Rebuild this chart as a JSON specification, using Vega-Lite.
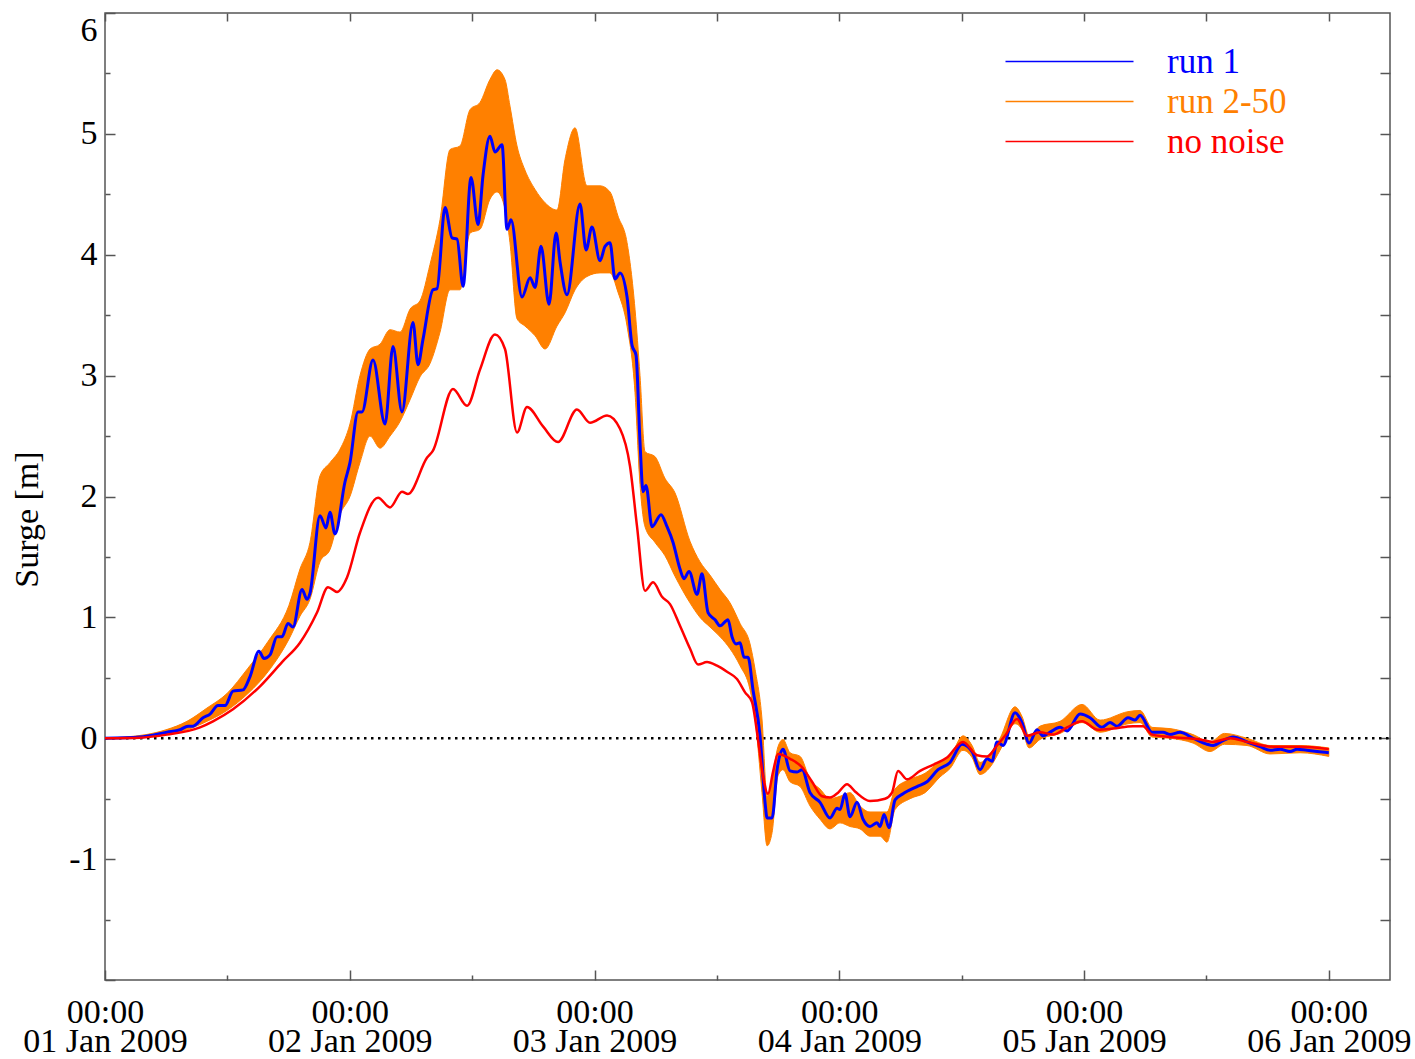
{
"$schema": "https://vega.github.io/schema/vega-lite/v6.json",
"width": 1285, "height": 967,
"autosize": {"type": "none"},
"padding": {"left": 105, "top": 13, "right": 25, "bottom": 79},
"background": "white",
"config": {
  "view": {"stroke": "#555555", "strokeWidth": 1.5},
  "font": "Liberation Serif",
  "axis": {"grid": false, "domain": false, "labelFont": "Liberation Serif", "labelFontSize": 34, "labelColor": "black", "tickColor": "#555555", "tickWidth": 1.5, "labelOverlap": false, "labelBound": false},
  "legend": {"orient": "none", "legendX": 947, "legendY": 31, "title": null,
        "symbolType": "M-6.4,0H6.4", "symbolSize": 400, "symbolStrokeWidth": 1.5, "labelFont": "Liberation Serif", "labelFontSize": 35, "labelOffset": 80, "rowPadding": 4, "padding": 0}
},
"resolve": {"axis": {"x": "independent", "y": "independent"}},
"datasets": {
"blue": [
{"h":0,"v":0},{"h":3.43,"v":0.01},{"h":6.08,"v":0.05},{"h":7.35,"v":0.07},{"h":8.14,"v":0.10},{"h":8.63,"v":0.10},{"h":9.61,"v":0.17},{"h":10.30,"v":0.20},{"h":11.08,"v":0.27},{"h":11.77,"v":0.27},{"h":12.55,"v":0.39},{"h":13.53,"v":0.40},{"h":14.22,"v":0.51},{"h":15.10,"v":0.72},{"h":15.59,"v":0.66},{"h":16.18,"v":0.69},{"h":16.87,"v":0.84},{"h":17.36,"v":0.84},{"h":17.94,"v":0.95},{"h":18.43,"v":0.92},{"h":19.32,"v":1.23},{"h":19.81,"v":1.15},{"h":20.10,"v":1.20},{"h":21.08,"v":1.84},{"h":21.67,"v":1.74},{"h":22.06,"v":1.87},{"h":22.55,"v":1.69},{"h":23.53,"v":2.12},{"h":24.02,"v":2.28},{"h":24.81,"v":2.70},{"h":25.20,"v":2.70},{"h":26.28,"v":3.13},{"h":27.46,"v":2.60},{"h":28.24,"v":3.24},{"h":29.12,"v":2.70},{"h":30.20,"v":3.44},{"h":30.69,"v":3.09},{"h":31.18,"v":3.30},{"h":32.16,"v":3.71},{"h":32.56,"v":3.72},{"h":33.34,"v":4.39},{"h":34.03,"v":4.14},{"h":34.52,"v":4.13},{"h":35.11,"v":3.74},{"h":35.89,"v":4.64},{"h":36.58,"v":4.25},{"h":37.07,"v":4.66},{"h":37.75,"v":4.98},{"h":38.24,"v":4.85},{"h":38.93,"v":4.91},{"h":39.42,"v":4.21},{"h":39.81,"v":4.29},{"h":40.89,"v":3.65},{"h":41.68,"v":3.81},{"h":42.17,"v":3.73},{"h":42.75,"v":4.07},{"h":43.54,"v":3.59},{"h":44.23,"v":4.18},{"h":44.62,"v":3.94},{"h":45.30,"v":3.67},{"h":46.58,"v":4.42},{"h":47.17,"v":4.04},{"h":47.75,"v":4.23},{"h":48.54,"v":3.95},{"h":49.03,"v":4.07},{"h":49.52,"v":4.10},{"h":50.01,"v":3.80},{"h":50.50,"v":3.85},{"h":51.19,"v":3.65},{"h":51.68,"v":3.25},{"h":52.07,"v":3.17},{"h":52.46,"v":2.45},{"h":52.76,"v":2.04},{"h":53.05,"v":2.09},{"h":53.64,"v":1.75},{"h":54.52,"v":1.85},{"h":55.11,"v":1.75},{"h":55.70,"v":1.62},{"h":56.38,"v":1.40},{"h":56.77,"v":1.32},{"h":57.27,"v":1.38},{"h":58.05,"v":1.19},{"h":58.54,"v":1.36},{"h":59.13,"v":1.04},{"h":59.82,"v":0.98},{"h":60.31,"v":0.93},{"h":61.09,"v":0.98},{"h":61.48,"v":0.84},{"h":61.88,"v":0.78},{"h":62.27,"v":0.79},{"h":62.66,"v":0.67},{"h":63.05,"v":0.67},{"h":63.54,"v":0.40},{"h":64.23,"v":0.02},{"h":64.72,"v":-0.53},{"h":64.92,"v":-0.66},{"h":65.41,"v":-0.66},{"h":65.90,"v":-0.26},{"h":66.48,"v":-0.09},{"h":67.17,"v":-0.27},{"h":67.86,"v":-0.28},{"h":68.35,"v":-0.26},{"h":69.13,"v":-0.45},{"h":70.11,"v":-0.53},{"h":71.09,"v":-0.66},{"h":71.78,"v":-0.58},{"h":72.07,"v":-0.59},{"h":72.56,"v":-0.46},{"h":73.05,"v":-0.65},{"h":73.74,"v":-0.53},{"h":74.33,"v":-0.67},{"h":75.01,"v":-0.73},{"h":75.70,"v":-0.70},{"h":76.00,"v":-0.73},{"h":76.39,"v":-0.63},{"h":76.88,"v":-0.74},{"h":77.47,"v":-0.51},{"h":78.25,"v":-0.46},{"h":79.62,"v":-0.40},{"h":80.60,"v":-0.36},{"h":81.68,"v":-0.26},{"h":82.86,"v":-0.20},{"h":84.04,"v":-0.05},{"h":85.02,"v":-0.11},{"h":85.80,"v":-0.26},{"h":86.49,"v":-0.17},{"h":86.98,"v":-0.19},{"h":87.47,"v":-0.03},{"h":88.06,"v":-0.06},{"h":89.23,"v":0.21},{"h":89.92,"v":0.13},{"h":90.61,"v":-0.04},{"h":91.39,"v":0.07},{"h":91.98,"v":0.02},{"h":92.67,"v":0.05},{"h":93.65,"v":0.09},{"h":94.33,"v":0.06},{"h":95.61,"v":0.20},{"h":96.59,"v":0.17},{"h":97.76,"v":0.09},{"h":98.55,"v":0.13},{"h":99.24,"v":0.10},{"h":100.31,"v":0.17},{"h":101.00,"v":0.15},{"h":101.49,"v":0.19},{"h":102.67,"v":0.05},{"h":103.75,"v":0.05},{"h":104.43,"v":0.03},{"h":105.41,"v":0.05},{"h":106.69,"v":0.00},{"h":108.06,"v":-0.05},{"h":108.65,"v":-0.06},{"h":109.63,"v":-0.02},{"h":110.61,"v":0.01},{"h":111.98,"v":-0.03},{"h":113.26,"v":-0.07},{"h":114.24,"v":-0.10},{"h":115.22,"v":-0.09},{"h":116.20,"v":-0.11},{"h":116.89,"v":-0.09},{"h":117.87,"v":-0.10},{"h":118.85,"v":-0.11},{"h":120,"v":-0.12}
],
"red": [
{"h":0,"v":0},{"h":3.43,"v":0.005},{"h":6.08,"v":0.03},{"h":9.32,"v":0.09},{"h":10.59,"v":0.14},{"h":12.55,"v":0.24},{"h":15.20,"v":0.43},{"h":17.36,"v":0.63},{"h":19.12,"v":0.79},{"h":20.79,"v":1.04},{"h":21.87,"v":1.25},{"h":22.75,"v":1.21},{"h":23.73,"v":1.33},{"h":25.00,"v":1.70},{"h":26.77,"v":1.99},{"h":27.95,"v":1.91},{"h":29.12,"v":2.04},{"h":29.71,"v":2.02},{"h":31.57,"v":2.32},{"h":32.16,"v":2.38},{"h":34.12,"v":2.89},{"h":35.50,"v":2.75},{"h":36.77,"v":3.05},{"h":38.24,"v":3.34},{"h":39.22,"v":3.22},{"h":40.40,"v":2.53},{"h":41.38,"v":2.74},{"h":42.95,"v":2.58},{"h":44.42,"v":2.45},{"h":46.28,"v":2.72},{"h":47.56,"v":2.61},{"h":49.23,"v":2.67},{"h":50.50,"v":2.56},{"h":51.48,"v":2.25},{"h":52.17,"v":1.75},{"h":52.95,"v":1.22},{"h":53.74,"v":1.29},{"h":54.62,"v":1.17},{"h":55.40,"v":1.11},{"h":56.38,"v":0.93},{"h":57.37,"v":0.74},{"h":58.15,"v":0.61},{"h":59.03,"v":0.63},{"h":60.01,"v":0.60},{"h":60.99,"v":0.55},{"h":61.97,"v":0.49},{"h":62.76,"v":0.38},{"h":63.44,"v":0.30},{"h":64.03,"v":-0.01},{"h":64.52,"v":-0.31},{"h":65.01,"v":-0.46},{"h":65.50,"v":-0.28},{"h":65.99,"v":-0.13},{"h":67.17,"v":-0.17},{"h":68.35,"v":-0.24},{"h":69.33,"v":-0.36},{"h":70.31,"v":-0.48},{"h":71.09,"v":-0.49},{"h":71.88,"v":-0.45},{"h":72.76,"v":-0.38},{"h":73.54,"v":-0.44},{"h":75.01,"v":-0.52},{"h":76.49,"v":-0.50},{"h":77.17,"v":-0.45},{"h":77.76,"v":-0.27},{"h":78.64,"v":-0.34},{"h":79.92,"v":-0.27},{"h":81.19,"v":-0.22},{"h":82.57,"v":-0.16},{"h":84.13,"v":-0.03},{"h":85.51,"v":-0.14},{"h":86.49,"v":-0.15},{"h":87.47,"v":-0.06},{"h":88.25,"v":0.02},{"h":89.43,"v":0.16},{"h":90.41,"v":0.02},{"h":91.68,"v":0.05},{"h":92.96,"v":0.03},{"h":94.33,"v":0.09},{"h":95.80,"v":0.14},{"h":97.37,"v":0.07},{"h":98.84,"v":0.08},{"h":100.80,"v":0.10},{"h":101.78,"v":0.10},{"h":102.67,"v":0.03},{"h":104.43,"v":0.01},{"h":107.37,"v":-0.01},{"h":108.65,"v":-0.03},{"h":110.32,"v":0.00},{"h":111.98,"v":-0.03},{"h":114.53,"v":-0.07},{"h":117.18,"v":-0.07},{"h":120,"v":-0.09}
],
"env": [
{"h":0,"lo":0,"hi":0},{"h":1.96,"lo":0,"hi":0.01},{"h":4.02,"lo":0.01,"hi":0.03},{"h":5.98,"lo":0.03,"hi":0.07},{"h":8.04,"lo":0.07,"hi":0.14},{"h":10.00,"lo":0.14,"hi":0.25},{"h":11.96,"lo":0.23,"hi":0.37},{"h":14.02,"lo":0.37,"hi":0.58},{"h":15.98,"lo":0.55,"hi":0.80},{"h":18.04,"lo":0.82,"hi":1.10},{"h":19.12,"lo":1.01,"hi":1.40},{"h":20.10,"lo":1.15,"hi":1.62},{"h":21.08,"lo":1.46,"hi":2.17},{"h":22.06,"lo":1.56,"hi":2.28},{"h":23.04,"lo":1.85,"hi":2.39},{"h":24.02,"lo":2.00,"hi":2.60},{"h":25.00,"lo":2.28,"hi":3.00},{"h":25.99,"lo":2.50,"hi":3.22},{"h":26.97,"lo":2.40,"hi":3.26},{"h":27.95,"lo":2.50,"hi":3.38},{"h":28.93,"lo":2.62,"hi":3.36},{"h":29.91,"lo":2.80,"hi":3.55},{"h":30.89,"lo":2.99,"hi":3.62},{"h":31.87,"lo":3.10,"hi":3.92},{"h":32.85,"lo":3.36,"hi":4.29},{"h":33.83,"lo":3.71,"hi":4.87},{"h":34.81,"lo":3.71,"hi":4.90},{"h":35.79,"lo":4.18,"hi":5.20},{"h":36.77,"lo":4.21,"hi":5.26},{"h":37.75,"lo":4.46,"hi":5.45},{"h":38.44,"lo":4.52,"hi":5.53},{"h":39.22,"lo":4.38,"hi":5.45},{"h":39.71,"lo":4.10,"hi":5.23},{"h":40.40,"lo":3.47,"hi":4.90},{"h":41.18,"lo":3.41,"hi":4.70},{"h":42.17,"lo":3.33,"hi":4.54},{"h":43.15,"lo":3.22,"hi":4.43},{"h":44.32,"lo":3.41,"hi":4.37},{"h":45.11,"lo":3.52,"hi":4.79},{"h":46.09,"lo":3.71,"hi":5.05},{"h":47.26,"lo":3.82,"hi":4.57},{"h":48.54,"lo":3.85,"hi":4.57},{"h":49.52,"lo":3.85,"hi":4.52},{"h":50.30,"lo":3.69,"hi":4.32},{"h":51.19,"lo":3.41,"hi":4.10},{"h":51.97,"lo":2.86,"hi":3.55},{"h":52.46,"lo":2.10,"hi":3.00},{"h":52.95,"lo":1.75,"hi":2.37},{"h":53.93,"lo":1.62,"hi":2.33},{"h":54.91,"lo":1.51,"hi":2.15},{"h":55.89,"lo":1.34,"hi":2.03},{"h":57.36,"lo":1.12,"hi":1.63},{"h":58.34,"lo":1.00,"hi":1.46},{"h":59.32,"lo":0.92,"hi":1.35},{"h":60.31,"lo":0.84,"hi":1.23},{"h":61.29,"lo":0.74,"hi":1.12},{"h":62.27,"lo":0.60,"hi":0.95},{"h":63.25,"lo":0.40,"hi":0.78},{"h":63.74,"lo":0.16,"hi":0.57},{"h":64.42,"lo":-0.45,"hi":0.16},{"h":64.92,"lo":-0.89,"hi":-0.48},{"h":65.41,"lo":-0.78,"hi":-0.34},{"h":65.99,"lo":-0.31,"hi":-0.07},{"h":66.48,"lo":-0.26,"hi":-0.01},{"h":67.17,"lo":-0.36,"hi":-0.12},{"h":68.16,"lo":-0.40,"hi":-0.15},{"h":69.13,"lo":-0.56,"hi":-0.34},{"h":70.11,"lo":-0.67,"hi":-0.42},{"h":71.09,"lo":-0.75,"hi":-0.50},{"h":72.07,"lo":-0.70,"hi":-0.48},{"h":73.05,"lo":-0.73,"hi":-0.45},{"h":74.03,"lo":-0.75,"hi":-0.56},{"h":75.01,"lo":-0.81,"hi":-0.61},{"h":76.00,"lo":-0.81,"hi":-0.61},{"h":76.68,"lo":-0.86,"hi":-0.61},{"h":77.47,"lo":-0.59,"hi":-0.42},{"h":78.94,"lo":-0.50,"hi":-0.34},{"h":80.41,"lo":-0.45,"hi":-0.29},{"h":81.88,"lo":-0.32,"hi":-0.19},{"h":82.86,"lo":-0.25,"hi":-0.15},{"h":84.13,"lo":-0.10,"hi":0.02},{"h":85.02,"lo":-0.16,"hi":-0.06},{"h":85.80,"lo":-0.30,"hi":-0.20},{"h":86.78,"lo":-0.24,"hi":-0.13},{"h":87.76,"lo":-0.10,"hi":0.00},{"h":89.23,"lo":0.12,"hi":0.26},{"h":89.92,"lo":0.07,"hi":0.18},{"h":90.61,"lo":-0.08,"hi":0.02},{"h":91.68,"lo":-0.01,"hi":0.10},{"h":93.65,"lo":0.04,"hi":0.14},{"h":95.80,"lo":0.13,"hi":0.28},{"h":97.57,"lo":0.05,"hi":0.15},{"h":100.31,"lo":0.12,"hi":0.22},{"h":101.49,"lo":0.13,"hi":0.23},{"h":102.67,"lo":0.01,"hi":0.09},{"h":104.43,"lo":0.00,"hi":0.08},{"h":106.69,"lo":-0.04,"hi":0.03},{"h":108.35,"lo":-0.11,"hi":-0.03},{"h":109.77,"lo":-0.05,"hi":0.04},{"h":111.98,"lo":-0.06,"hi":0.00},{"h":114.24,"lo":-0.13,"hi":-0.06},{"h":117.18,"lo":-0.12,"hi":-0.06},{"h":120,"lo":-0.15,"hi":-0.08}
]
},
"layer": [
{
  "data": {"values": [{"zero": 0, "start": 0, "end": 126}]},
  "mark": {"type": "rule", "color": "black", "strokeWidth": 2.5, "strokeDash": [2.5, 4.5], "strokeCap": "butt"},
  "encoding": {
    "x": {"field": "start", "type": "quantitative", "scale": {"domain": [0, 126], "nice": false, "zero": false}, "axis": {"orient": "top", "values": [0,12,24,36,48,60,72,84,96,108,120], "labels": false, "tickSize": -8, "title": null}},
    "x2": {"field": "end"},
    "y": {"field": "zero", "type": "quantitative", "scale": {"domain": [-2, 6], "nice": false, "zero": false}, "axis": {"orient": "right", "values": [-1.5,-1,-0.5,0,0.5,1,1.5,2,2.5,3,3.5,4,4.5,5,5.5], "labels": false, "tickSize": -10, "title": null}}
  }
},
{
  "data": {"name": "env"},
  "mark": {"type": "area", "opacity": 1, "stroke": "#ff8000", "strokeWidth": 1, "interpolate": "monotone", "clip": true},
  "encoding": {
    "x": {"field": "h", "type": "quantitative", "scale": {"domain": [0, 126], "nice": false, "zero": false},
      "axis": {"orient": "bottom", "values": [0,24,48,72,96,120], "ticks": false, "labelPadding": 15, "labelLineHeight": 29, "labelAlign": "center",
        "labelExpr": "['00:00', ['01','02','03','04','05','06'][round(datum.value/24)] + ' Jan 2009']", "title": null}},
    "y": {"field": "lo", "type": "quantitative", "scale": {"domain": [-2, 6], "nice": false, "zero": false},
      "axis": {"orient": "left", "values": [-1,0,1,2,3,4,5,6], "ticks": false, "labelPadding": 8, "labelFlush": true,
        "labelExpr": "datum.value < 0 ? '-' + abs(datum.value) : '' + datum.value",
        "title": "Surge [m]", "titleFont": "Liberation Serif", "titleFontSize": 34, "titleFontWeight": "normal", "titleColor": "black", "titlePadding": 24, "titleY": 506}},
    "y2": {"field": "hi"},
    "color": {"datum": "run 2-50", "scale": {"domain": ["run 1", "run 2-50", "no noise"], "range": ["#0000ff", "#ff8000", "#ff0000"]},
      "legend": {"encode": {"labels": {"update": {"fill": {"signal": "scale('color', datum.value)"}}},
                   "symbols": {"update": {"stroke": {"signal": "scale('color', datum.value)"}, "fill": {"value": "transparent"}, "opacity": {"value": 1}}}}}}
  }
},
{
  "data": {"name": "blue"},
  "mark": {"type": "line", "strokeWidth": 3, "interpolate": "monotone", "clip": true},
  "encoding": {
    "x": {"field": "h", "type": "quantitative", "scale": {"domain": [0, 126], "nice": false, "zero": false}, "axis": {"orient": "bottom", "values": [0,24,48,72,96,120], "labels": false, "tickSize": -10, "title": null}},
    "y": {"field": "v", "type": "quantitative", "scale": {"domain": [-2, 6], "nice": false, "zero": false}, "axis": {"orient": "left", "values": [-2,-1,0,1,2,3,4,5,6], "labels": false, "tickSize": -10, "title": null}},
    "color": {"datum": "run 1", "scale": {"domain": ["run 1", "run 2-50", "no noise"], "range": ["#0000ff", "#ff8000", "#ff0000"]},
      "legend": {"encode": {"labels": {"update": {"fill": {"signal": "scale('color', datum.value)"}}},
                   "symbols": {"update": {"stroke": {"signal": "scale('color', datum.value)"}, "fill": {"value": "transparent"}, "opacity": {"value": 1}}}}}}
  }
},
{
  "data": {"name": "red"},
  "mark": {"type": "line", "strokeWidth": 2.5, "interpolate": "monotone", "clip": true},
  "encoding": {
    "x": {"field": "h", "type": "quantitative", "scale": {"domain": [0, 126], "nice": false, "zero": false}, "axis": {"orient": "bottom", "values": [12,36,60,84,108], "labels": false, "tickSize": -5, "title": null}},
    "y": {"field": "v", "type": "quantitative", "scale": {"domain": [-2, 6], "nice": false, "zero": false}, "axis": {"orient": "left", "values": [-1.5,-0.5,0.5,1.5,2.5,3.5,4.5,5.5], "labels": false, "tickSize": -5, "title": null}},
    "color": {"datum": "no noise", "scale": {"domain": ["run 1", "run 2-50", "no noise"], "range": ["#0000ff", "#ff8000", "#ff0000"]},
      "legend": {"encode": {"labels": {"update": {"fill": {"signal": "scale('color', datum.value)"}}},
                   "symbols": {"update": {"stroke": {"signal": "scale('color', datum.value)"}, "fill": {"value": "transparent"}, "opacity": {"value": 1}}}}}}
  }
}
]
}
